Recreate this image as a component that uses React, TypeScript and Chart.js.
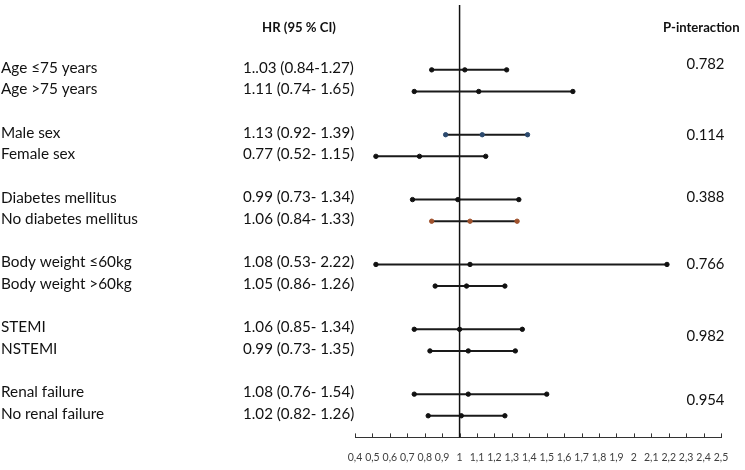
import React, { useEffect, useRef } from "react";
import { Chart, registerables } from "chart.js";

Chart.register(...registerables);

const categories = [
  "Age ≤75 years",
  "Age >75 years",
  "Male sex",
  "Female sex",
  "Diabetes mellitus",
  "No diabetes mellitus",
  "Body weight ≤60kg",
  "Body weight >60kg",
  "STEMI",
  "NSTEMI",
  "Renal failure",
  "No renal failure",
];

const hrLabels = [
  "1..03 (0.84-1.27)",
  "1.11 (0.74- 1.65)",
  "1.13 (0.92- 1.39)",
  "0.77 (0.52- 1.15)",
  "0.99 (0.73- 1.34)",
  "1.06 (0.84- 1.33)",
  "1.08 (0.53- 2.22)",
  "1.05 (0.86- 1.26)",
  "1.06 (0.85- 1.34)",
  "0.99 (0.73- 1.35)",
  "1.08 (0.76- 1.54)",
  "1.02 (0.82- 1.26)",
];

// values as drawn in the plot
const hr = [1.03, 1.11, 1.13, 0.77, 0.99, 1.06, 1.06, 1.04, 1.0, 1.05, 1.05, 1.01];
const lower = [0.84, 0.74, 0.92, 0.52, 0.73, 0.84, 0.52, 0.86, 0.74, 0.83, 0.74, 0.82];
const upper = [1.27, 1.65, 1.39, 1.15, 1.34, 1.33, 2.19, 1.26, 1.36, 1.32, 1.5, 1.26];

const pInteraction = ["0.782", "0.114", "0.388", "0.766", "0.982", "0.954"];

const xTickValues = [0.4, 0.5, 0.6, 0.7, 0.8, 0.9, 1, 1.1, 1.2, 1.3, 1.4, 1.5, 1.6, 1.7, 1.8, 1.9, 2, 2.1, 2.2, 2.3, 2.4, 2.5];
const xTickLabels = ["0,4", "0,5", "0,6", "0,7", "0,8", "0,9", "1", "1,1", "1,2", "1,3", "1,4", "1,5", "1,6", "1,7", "1,8", "1,9", "2", "2,1", "2,2", "2,3", "2,4", "2,5"];

// layout helpers (not data)
const ROWS_PER_GROUP = 2;
const SLOTS_PER_GROUP = 3;
const rowSlot = (i: number) => Math.floor(i / ROWS_PER_GROUP) * SLOTS_PER_GROUP + (i % ROWS_PER_GROUP);
const pValueNudge = [-0.27, 0, -0.1, 0, 0.3, 0.3];
const markerColors = ["#111", "#111", "#2c4a6e", "#111", "#111", "#a0522d", "#111", "#111", "#111", "#111", "#111", "#111"];

const FONT = "Lato, 'Open Sans', sans-serif";

// find a font size so that sample text has the target width
function fitSize(ctx: CanvasRenderingContext2D, text: string, target: number, weight = "") {
  ctx.font = `${weight} 20px ${FONT}`;
  const w = ctx.measureText(text).width;
  return (20 * target) / w;
}

const textPlugin = {
  id: "forestText",
  afterDraw(chart: any) {
    const ctx = chart.ctx as CanvasRenderingContext2D;
    const y = chart.scales.y;
    const x = chart.scales.x;
    ctx.save();
    ctx.fillStyle = "#111";
    ctx.textBaseline = "middle";
    // headers
    const hs = fitSize(ctx, "HR (95 % CI)", 74, "bold");
    ctx.font = `bold ${hs}px ${FONT}`;
    ctx.textAlign = "center";
    ctx.fillText("HR (95 % CI)", 299, 28);
    ctx.textAlign = "left";
    ctx.fillText("P-interaction", 663, 28);
    // rows
    const ls = fitSize(ctx, categories[5], 137);
    const hsz = fitSize(ctx, hrLabels[0], 111);
    categories.forEach((c, i) => {
      const py = y.getPixelForValue(rowSlot(i)) - 2;
      ctx.textAlign = "left";
      ctx.font = `${ls}px ${FONT}`;
      ctx.fillText(c, 1, py);
      ctx.font = `${hsz}px ${FONT}`;
      ctx.fillText(hrLabels[i], 243, py);
    });
    ctx.textAlign = "center";
    ctx.font = `${fitSize(ctx, "0.782", 38)}px ${FONT}`;
    pInteraction.forEach((p, g) => {
      const py = y.getPixelForValue(g * SLOTS_PER_GROUP + pValueNudge[g]);
      ctx.fillText(p, 705.5, py);
    });
    // upward tick marks on x axis
    ctx.strokeStyle = "#333";
    ctx.lineWidth = 1;
    const base = x.top;
    xTickValues.forEach((v) => {
      const px = Math.round(x.getPixelForValue(v)) + 0.5;
      ctx.beginPath();
      ctx.moveTo(px, base);
      ctx.lineTo(px, base - 4);
      ctx.stroke();
    });
    ctx.restore();
  },
};

export default function App() {
  const ref = useRef<HTMLCanvasElement | null>(null);
  useEffect(() => {
    if (!ref.current) return;
    const datasets: any[] = categories.map((c, i) => ({
      label: c,
      data: [
        { x: lower[i], y: rowSlot(i) },
        { x: hr[i], y: rowSlot(i) },
        { x: upper[i], y: rowSlot(i) },
      ],
      showLine: true,
      borderColor: "#1a1a1a",
      borderWidth: 2,
      pointRadius: 2.2,
      pointBackgroundColor: markerColors[i],
      pointBorderColor: markerColors[i],
      pointBorderWidth: 1,
    }));
    datasets.push({
      label: "ref",
      data: [
        { x: 1, y: -3 },
        { x: 1, y: 17 },
      ],
      showLine: true,
      borderColor: "#111",
      borderWidth: 1.5,
      pointRadius: 0,
    });
    const chart = new Chart(ref.current, {
      type: "scatter",
      data: { datasets },
      options: {
        animation: false,
        responsive: false,
        devicePixelRatio: 1,
        layout: { padding: { left: 355, right: 24, top: 0, bottom: 0 } },
        plugins: { legend: { display: false }, tooltip: { enabled: false } },
        scales: {
          x: {
            type: "linear",
            min: 0.4,
            max: 2.5,
            afterBuildTicks: (scale: any) => {
              scale.ticks = xTickValues.map((v) => ({ value: v }));
            },
            ticks: {
              autoSkip: false,
              maxRotation: 0,
              padding: 6,
              color: "#404040",
              font: { family: FONT, size: 10.5 },
              callback: (_v: any, idx: number) => xTickLabels[idx],
            },
            grid: { display: false },
            border: { display: true, color: "#333", width: 1 },
          },
          y: {
            type: "linear",
            min: -3,
            max: 17,
            reverse: true,
            display: false,
          },
        },
      },
      plugins: [textPlugin],
    });
    return () => chart.destroy();
  }, []);
  return (
    <div style={{ position: "fixed", left: 0, top: 0, width: 745, height: 470, background: "#fff" }}>
      <canvas ref={ref} width={745} height={470} style={{ width: 745, height: 470 }} />
    </div>
  );
}
